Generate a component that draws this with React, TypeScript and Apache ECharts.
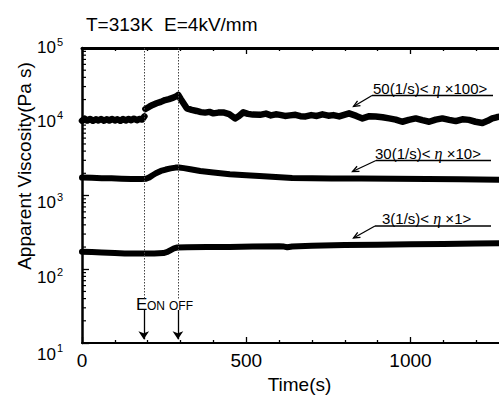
import React, { useEffect, useRef } from "react";
import * as echarts from "echarts";

const FONT = '"Liberation Sans", Arial, Helvetica, sans-serif';

// Series at 50 (1/s), viscosity x100 (break at field-on)
const time50 = [0, 8, 16, 25, 33, 42, 50, 58, 67, 75, 83, 92, 100, 108, 117, 125, 133, 142, 150, 158, 167, 175, 183, 190, 191, 193, 205, 215, 227, 240, 253, 265, 278, 288, 293, 300, 309, 319, 334, 349, 362, 375, 388, 400, 415, 430, 448, 466, 478, 491, 505, 520, 542, 560, 575, 590, 603, 618, 633, 650, 665, 681, 698, 715, 732, 750, 765, 783, 798, 813, 835, 854, 875, 894, 915, 935, 955, 975, 995, 1016, 1036, 1057, 1077, 1097, 1118, 1138, 1158, 1178, 1198, 1219, 1235, 1249, 1262, 1275];
const visc50: (number | string)[] = [10300, 11000, 10400, 10900, 10300, 10800, 10400, 10900, 10300, 10800, 10400, 10900, 10400, 10800, 10300, 10900, 10400, 10900, 10500, 11000, 10500, 10900, 10700, 11800, "-", 14900, 16000, 16900, 17800, 18600, 19700, 20300, 21200, 22300, 23100, 20500, 17800, 15200, 14500, 14000, 13500, 13300, 13600, 13000, 13300, 13400, 12700, 11100, 12000, 13400, 12800, 12500, 12400, 12900, 12200, 12600, 12400, 12000, 12200, 12400, 11900, 11800, 12300, 12000, 12600, 12100, 12300, 11800, 12400, 13000, 12000, 11100, 11900, 11800, 11500, 11100, 10700, 10000, 10600, 11100, 10500, 10000, 10700, 11100, 10600, 10200, 10800, 10600, 10000, 9600, 10300, 11100, 11500, 11800];

// Series at 30 (1/s), viscosity x10
const time30 = [0, 30, 60, 90, 120, 150, 180, 195, 205, 215, 225, 240, 255, 270, 285, 295, 310, 330, 360, 400, 450, 500, 540, 590, 640, 700, 760, 850, 950, 1050, 1150, 1275];
const visc30 = [1750, 1740, 1720, 1710, 1690, 1680, 1670, 1690, 1760, 1880, 2000, 2150, 2250, 2330, 2390, 2400, 2350, 2270, 2150, 2050, 1940, 1880, 1840, 1780, 1730, 1710, 1700, 1700, 1690, 1680, 1660, 1630];

// Series at 3 (1/s), viscosity x1
const time3 = [0, 30, 60, 100, 130, 160, 190, 220, 248, 260, 270, 280, 290, 320, 380, 450, 520, 600, 615, 625, 640, 700, 800, 900, 1000, 1100, 1200, 1275];
const visc3 = [173, 171, 169, 166, 164, 163, 164, 164, 166, 172, 182, 192, 197, 199, 200, 201, 203, 205, 203, 199, 204, 208, 213, 215, 218, 220, 223, 225];

const xTickLabels = ["0", "500", "1000"];
const fieldOn = 188;
const fieldOff = 292;
const minorMultipliers = [2, 3, 4, 5, 6, 7, 8, 9];
const decades = [10, 100, 1000, 10000];

const pair = (t: number[], v: (number | string)[]) => t.map((x, i) => [x, v[i]]);

function annotation(text: string, tx: number, ty: number, ux1: number, ux2: number, uy: number, ax: number, ay: number) {
  const dx = ax - ux1;
  const dy = ay - uy;
  const len = Math.sqrt(dx * dx + dy * dy);
  const ux = dx / len;
  const uyv = dy / len;
  const L = 7;
  const ang = 0.42;
  const b1x = ax - L * (ux * Math.cos(ang) - uyv * Math.sin(ang));
  const b1y = ay - L * (uyv * Math.cos(ang) + ux * Math.sin(ang));
  const b2x = ax - L * (ux * Math.cos(-ang) - uyv * Math.sin(-ang));
  const b2y = ay - L * (uyv * Math.cos(-ang) + ux * Math.sin(-ang));
  const ls = { stroke: "#000", lineWidth: 1.3 };
  return [
    {
      type: "text",
      x: tx,
      y: ty,
      style: {
        text: text,
        fill: "#000",
        font: `15px ${FONT}`,
        verticalAlign: "middle",
        align: "left",
        rich: {
          n: { fontSize: 15, fontFamily: FONT, fill: "#000" },
          e: { fontSize: 16, fontFamily: '"Liberation Serif", serif', fontStyle: "italic", fill: "#000" },
        },
      },
    },
    { type: "line", shape: { x1: ux1, y1: uy, x2: ux2, y2: uy }, style: ls },
    { type: "line", shape: { x1: ux1, y1: uy, x2: ax, y2: ay }, style: ls },
    { type: "polyline", shape: { points: [[b1x, b1y], [ax, ay], [b2x, b2y]] }, style: { ...ls, fill: null } },
  ];
}

// per-label vertical placement of the y tick labels (top padding, px)
const yLabelShift: Record<number, number> = { 1: 23, 2: 18, 3: 15, 4: 0, 5: 0 };
const yRich: Record<string, any> = {};
[1, 2, 3, 4, 5].forEach((e) => {
  const p = yLabelShift[e];
  yRich["b" + e] = { fontSize: 17, fontFamily: FONT, color: "#000", verticalAlign: "bottom", padding: [p, 0, 4, 0] };
  yRich["s" + e] = { fontSize: 11, fontFamily: FONT, color: "#000", verticalAlign: "bottom", padding: [p, 0, 13, 1] };
});

export default function App() {
  const ref = useRef<HTMLDivElement>(null);
  useEffect(() => {
    if (!ref.current) return;
    const chart = echarts.init(ref.current, null, { renderer: "svg" });
    const minorTickData: number[][] = [];
    decades.forEach((d) => minorMultipliers.forEach((m) => minorTickData.push([0, d * m])));

    const lineCommon = {
      type: "line",
      showSymbol: false,
      symbol: "none",
      connectNulls: false,
      lineStyle: { color: "#000", width: 6, cap: "round", join: "round" },
      silent: true,
    };

    chart.setOption({
      animation: false,
      backgroundColor: "#fff",
      title: {
        text: "{a|T=313K}{b|E=4kV/mm}",
        left: 81,
        top: 10,
        textStyle: {
          fontSize: 19,
          fontWeight: "normal",
          fontFamily: FONT,
          color: "#000",
          rich: {
            a: { fontSize: 19, fontFamily: FONT, color: "#000" },
            b: { fontSize: 19, fontFamily: FONT, color: "#000", padding: [0, 0, 0, 11] },
          },
        },
      },
      grid: { left: 82, right: -10, top: 48, bottom: 53, outerBoundsMode: "none", containLabel: false },
      xAxis: [
        {
          type: "value",
          min: 0,
          max: 1300,
          interval: 500,
          position: "bottom",
          name: "Time(s)",
          nameLocation: "middle",
          nameGap: 30,
          nameTextStyle: { fontSize: 19, fontFamily: FONT, color: "#000", padding: [0, 0, 0, 8] },
          axisLine: { show: true, lineStyle: { color: "#000", width: 2 } },
          axisTick: { show: true, inside: true, length: 6, lineStyle: { color: "#000", width: 1.3 } },
          minorTick: { show: true, splitNumber: 5, length: 3, lineStyle: { color: "#000", width: 1.3 } },
          axisLabel: {
            fontSize: 19,
            fontFamily: FONT,
            color: "#000",
            margin: 8,
            showMaxLabel: false,
            formatter: (v: number) => xTickLabels.find((s) => Number(s) === v) ?? "",
          },
          splitLine: { show: false },
        },
        {
          type: "value",
          min: 0,
          max: 1300,
          interval: 500,
          position: "top",
          axisLine: { show: true, lineStyle: { color: "#000", width: 3 } },
          axisTick: { show: true, inside: true, length: 6, lineStyle: { color: "#000", width: 1.3 } },
          minorTick: { show: true, splitNumber: 5, length: 3, lineStyle: { color: "#000", width: 1.3 } },
          axisLabel: { show: false },
          splitLine: { show: false },
        },
      ],
      yAxis: {
        type: "log",
        logBase: 10,
        min: 10,
        max: 100000,
        axisLine: { show: true, lineStyle: { color: "#000", width: 2.5 } },
        axisTick: { show: true, inside: true, length: 7, lineStyle: { color: "#000", width: 1.3 } },
        axisLabel: {
          margin: 19,
          color: "#000",
          formatter: (v: number) => {
            const e = Math.round(Math.log10(v));
            return `{b${e}|10}{s${e}|${e}}`;
          },
          rich: yRich,
        },
        splitLine: { show: false },
      },
      graphic: [
        {
          type: "text",
          x: 24,
          y: 166,
          rotation: Math.PI / 2,
          style: {
            text: "Apparent Viscosity(Pa s)",
            font: `19px ${FONT}`,
            fill: "#000",
            align: "center",
            verticalAlign: "middle",
          },
        },
        { type: "text", x: 136, y: 304, style: { text: "E", font: `17px ${FONT}`, fill: "#000", verticalAlign: "middle" } },
        { type: "text", x: 147, y: 305.5, style: { text: "ON", font: `12px ${FONT}`, fill: "#000", verticalAlign: "middle" } },
        { type: "text", x: 169, y: 305.5, style: { text: "OFF", font: `12px ${FONT}`, fill: "#000", verticalAlign: "middle" } },
        ...annotation("{n|50(1/s)< }{e|η}{n| ×100>}", 373, 88, 372, 493, 95.5, 353.5, 106.5),
        ...annotation("{n|30(1/s)< }{e|η}{n| ×10>}", 375, 153, 376, 491, 160.5, 352.5, 171.5),
        ...annotation("{n|3(1/s)< }{e|η}{n| ×1>}", 382, 218, 375, 491, 226, 353.5, 238),
      ],
      series: [
        {
          ...lineCommon,
          lineStyle: { ...lineCommon.lineStyle, width: 6.5 },
          name: "50(1/s)",
          data: pair(time50, visc50),
          markLine: {
            silent: true,
            symbol: ["none", "none"],
            label: { show: false },
            lineStyle: { color: "#444", width: 1, type: [1.5, 1.5] },
            data: [
              [{ coord: [fieldOn, 100000] }, { coord: [fieldOn, 40] }],
              [{ coord: [fieldOff, 100000] }, { coord: [fieldOff, 40] }],
            ],
          },
        },
        {
          ...lineCommon,
          name: "30(1/s)",
          data: pair(time30, visc30),
          markLine: {
            silent: true,
            symbol: ["none", "arrow"],
            symbolSize: 8,
            label: { show: false },
            lineStyle: { color: "#000", width: 1.3, type: "solid" },
            data: [
              [{ coord: [fieldOn, 28] }, { coord: [fieldOn, 11.2] }],
              [{ coord: [fieldOff, 28] }, { coord: [fieldOff, 11.2] }],
            ],
          },
        },
        { ...lineCommon, name: "3(1/s)", data: pair(time3, visc3) },
        {
          type: "custom",
          name: "minor ticks",
          silent: true,
          clip: false,
          data: minorTickData,
          renderItem: (_p: any, api: any) => {
            const pt = api.coord([0, api.value(1)]);
            return {
              type: "line",
              shape: { x1: pt[0], y1: pt[1], x2: pt[0] + 4, y2: pt[1] },
              style: { stroke: "#000", lineWidth: 1.2 },
            };
          },
        },
      ],
    });
    return () => chart.dispose();
  }, []);
  return (
    <div
      ref={ref}
      style={{ position: "fixed", left: 0, top: 0, width: 499, height: 396, background: "#fff" }}
    />
  );
}
